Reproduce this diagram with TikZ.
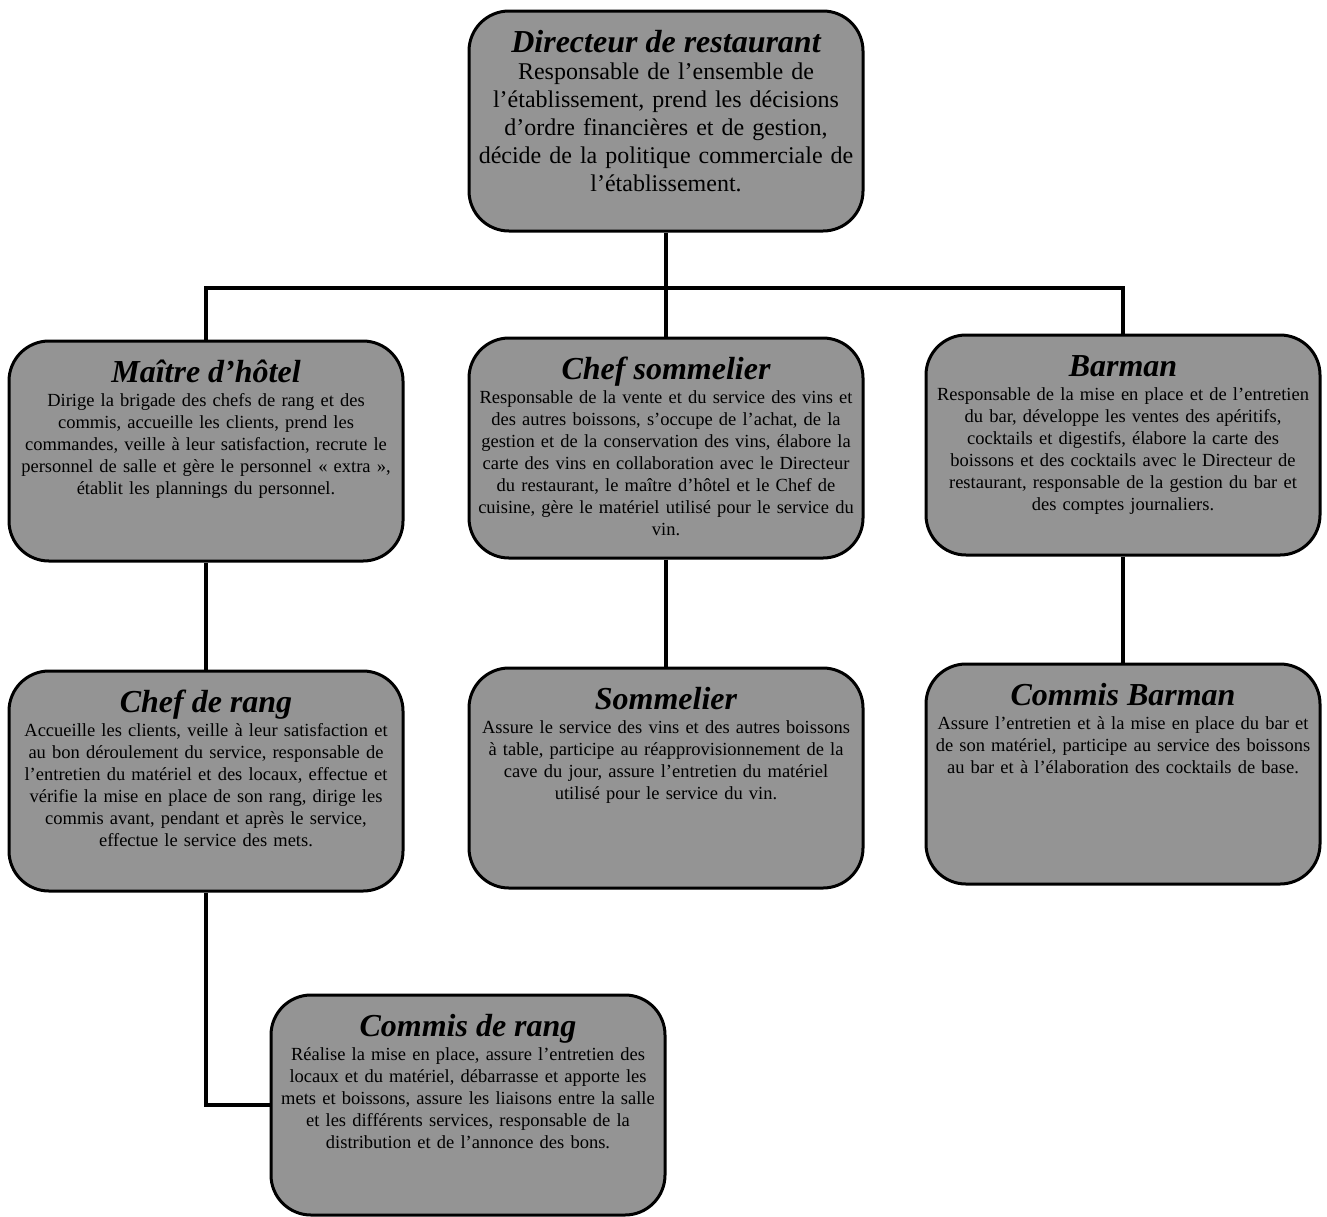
\documentclass[tikz,border=0pt]{standalone}
\usepackage{fontspec}
\setmainfont{Liberation Serif}
\usepackage{tikz}
\usetikzlibrary{calc}
\tikzset{
  poste/.style={draw, line width=3pt, rounded corners=40pt, fill=black!42,
    minimum width=394pt, minimum height=220pt, inner sep=0pt},  % box of one job
  titre/.style={anchor=base, inner sep=0pt,
    font=\fontsize{32}{36}\selectfont\bfseries\itshape},        % job title
  corps/.style={anchor=base, inner sep=0pt, text width=392pt, align=center,
    font=\fontsize{18.5}{22}\selectfont},                        % job description
  corpsDir/.style={corps, font=\fontsize{24}{28}\selectfont},
  lien/.style={line width=4.5pt}
}
\newcommand{\Poste}[4]{%
  \node[poste] (#1) at (#2) {};
  \node[titre] (#1T) at ([yshift=-43pt]#1.north) {#3};
  \node[corps] (#1C) at ([yshift=-67pt]#1.north) {#4};
}

\begin{document}
\begin{tikzpicture}[x=1pt, y=-1pt]
  \useasboundingbox (0,0) rectangle (1327,1216);
  \fill[white] (0,0) rectangle (1327,1216);
  % director
  \node[poste] (dir) at (666,121) {};
  \node[titre] (dirT) at ([yshift=-43pt]dir.north) {Directeur de restaurant};
  \node[corpsDir] (dirC) at ([yshift=-70pt]dir.north) {Responsable de l’ensemble de\\
    l’établissement, prend les décisions\\ d’ordre financières et de gestion,\\
    décide de la politique commerciale de\\ l’établissement.};
  % second row
  \Poste{maitre}{206,451}{Maître d’hôtel}{Dirige la brigade des chefs de rang et des\\
    commis, accueille les clients, prend les\\
    commandes, veille à leur satisfaction, recrute le\\
    personnel de salle et gère le personnel «~extra~»,\\
    établit les plannings du personnel.}
  \Poste{chefsom}{666,448}{Chef sommelier}{Responsable de la vente et du service des vins et\\
    des autres boissons, s’occupe de l’achat, de la\\
    gestion et de la conservation des vins, élabore la\\
    carte des vins en collaboration avec le Directeur\\
    du restaurant, le maître d’hôtel et le Chef de\\
    cuisine, gère le matériel utilisé pour le service du\\ vin.}
  \Poste{barman}{1123,445}{Barman}{Responsable de la mise en place et de l’entretien\\
    du bar, développe les ventes des apéritifs,\\
    cocktails et digestifs, élabore la carte des\\
    boissons et des cocktails avec le Directeur de\\
    restaurant, responsable de la gestion du bar et\\
    des comptes journaliers.}
  % third row
  \Poste{chefrang}{206,781}{Chef de rang}{Accueille les clients, veille à leur satisfaction et\\
    au bon déroulement du service, responsable de\\
    l’entretien du matériel et des locaux, effectue et\\
    vérifie la mise en place de son rang, dirige les\\
    commis avant, pendant et après le service,\\
    effectue le service des mets.}
  \Poste{sommelier}{666,778}{Sommelier}{Assure le service des vins et des autres boissons\\
    à table, participe au réapprovisionnement de la\\
    cave du jour, assure l’entretien du matériel\\
    utilisé pour le service du vin.}
  \Poste{cbarman}{1123,774}{Commis Barman}{Assure l’entretien et à la mise en place du bar et\\
    de son matériel, participe au service des boissons\\
    au bar et à l’élaboration des cocktails de base.}
  % last row
  \Poste{crang}{468,1105}{Commis de rang}{Réalise la mise en place, assure l’entretien des\\
    locaux et du matériel, débarrasse et apporte les\\
    mets et boissons, assure les liaisons entre la salle\\
    et les différents services, responsable de la\\
    distribution et de l’annonce des bons.}
  % links
  \coordinate (bus) at (666,288);
  \draw[lien] (dir.south) -- (chefsom.north);
  \draw[lien] (maitre.north) |- (bus) -| (barman.north);
  \draw[lien] (maitre.south) -- (chefrang.north);
  \draw[lien] (chefsom.south) -- (sommelier.north);
  \draw[lien] (barman.south) -- (cbarman.north);
  \draw[lien] (chefrang.south) |- (crang.west);
\end{tikzpicture}
\end{document}
